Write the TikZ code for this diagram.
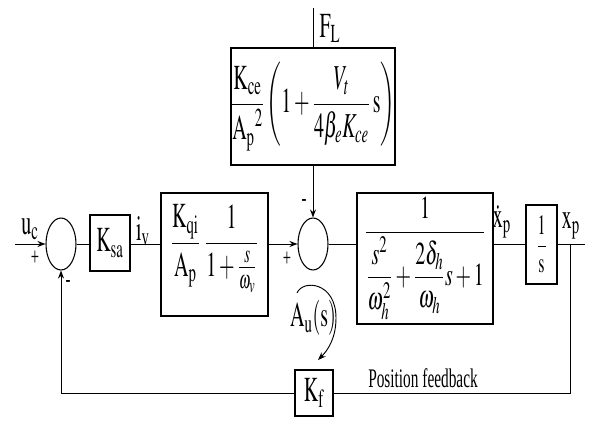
\documentclass[tikz,border=0pt]{standalone}
\usepackage{amsmath}
\usepackage{mathptmx}
\usepackage{fontspec}
\setmainfont{Liberation Serif}
\usepackage{graphicx}
\usetikzlibrary{arrows.meta,positioning,calc,shapes.geometric}

\newcommand{\tall}[1]{\scalebox{1}[1.75]{#1}}

\tikzset{
  blk/.style={draw,line width=1.6pt,inner sep=0pt,font=\fontsize{15}{18}\selectfont},
  sumj/.style={draw,ellipse,line width=0.8pt,minimum width=22.5pt,minimum height=39pt,inner sep=0pt},
  sig/.style={line width=0.7pt},
  sigarr/.style={line width=0.7pt,-{Stealth[length=6pt,width=4.5pt]}},
  lbl/.style={inner sep=0pt,font=\fontsize{15}{18}\selectfont},
  sgn/.style={inner sep=0pt,font=\fontsize{11}{13}\selectfont},
}

\begin{document}
\begin{tikzpicture}[x=0.75pt,y=-0.75pt]
  \useasboundingbox (0,0) rectangle (590,421); % 全体の大きさ
  \coordinate (uin) at (15,244); % 入力端
  \node[sumj] (sum1) at (61,244) {}; % 第1加算点
  \node[blk,minimum width=30pt,minimum height=42pt] (ksa) at (110,243) {\tall{$\mathrm{K_{sa}}$}}; % 増幅器
  \node[blk,minimum width=80pt,text height=44.5pt,text depth=47.8pt,anchor=base] (valve) at (214.5,252.3)
    {\tall{$\displaystyle\frac{\mathrm{K_{qi}}}{\mathrm{A_p}}\;\frac{1}{1+\frac{s}{\omega_v}}$}}; % サーボ弁
  \node[sumj] (sum2) at (313,244) {}; % 第2加算点
  \node[blk,minimum width=120pt,minimum height=88pt] (load) at (313,106.5)
    {\tall{$\displaystyle\frac{\mathrm{K_{ce}}}{\mathrm{A_p}^2}\left(1+\frac{V_t}{4\beta_e K_{ce}}\,\mathrm{s}\right)$}}; % 外乱の伝達
  \node[blk,minimum width=102pt,minimum height=98pt] (cyl) at (425,258.5)
    {\scalebox{1}[1.6]{$\displaystyle\frac{1}{\dfrac{s^2}{\omega_h^2}+\dfrac{2\delta_h}{\omega_h}s+1}$}}; % 油圧シリンダ
  \node[blk,minimum width=23pt,minimum height=59pt,font=\fontsize{12}{14}\selectfont] (integ) at (541.5,244.5)
    {\tall{$\dfrac{1}{\mathrm{s}}$}}; % 積分
  \node[blk,minimum width=28.5pt,minimum height=34pt] (kf) at (314,393) {\tall{$\mathrm{K_f}$}}; % 位置フィードバック
  \coordinate (xout) at (585,244); % 出力端
  \coordinate (tap) at (570,244); % 分岐点
  \coordinate (fl) at (313,8); % 外乱の入口

  \draw[sigarr] (uin) -- (sum1.west); % 入力
  \draw[sig] (sum1.east) -- (sum1.east -| ksa.west);
  \draw[sig] (ksa.east |- sum1) -- (sum1 -| valve.west);
  \draw[sigarr] (valve.east |- sum2) -- (sum2.west);
  \draw[sig] (fl) -- (load.north); % 外乱
  \draw[sigarr] (load.south) -- (sum2.north);
  \draw[sig] (sum2.east) -- (sum2 -| cyl.west);
  \draw[sig] (cyl.east |- sum2) -- (sum2 -| integ.west);
  \draw[sig] (integ.east |- sum2) -- (xout); % 出力
  \draw[sig] (tap) |- (kf.east); % 帰還（右側）
  \draw[sigarr] (kf.west) -| (sum1.south); % 帰還（左側）

  \node[lbl] (uc) at (30,229) {\tall{$\mathrm{u_c}$}};
  \node[sgn] (p1) at (35,258) {\tall{+}};
  \node[sgn] (m1) at (68,284) {\tall{-}};
  \node[lbl] (iv) at (143,231) {\tall{$\mathrm{i_v}$}};
  \node[sgn] (p2) at (287,259) {\tall{+}};
  \node[sgn] (m2) at (304,203) {\tall{-}};
  \node[lbl] (fll) at (330,28) {\tall{$\mathrm{F_L}$}};
  \node[lbl] (xpd) at (502,222) {\tall{$\mathrm{\dot{x}_p}$}};
  \node[lbl] (xp) at (571,226) {\tall{$\mathrm{x_p}$}};
  \node[lbl] (au) at (313,318) {\tall{$\mathrm{A_u(s)}$}};
  \draw[sigarr] (297,293) .. controls (303,279) and (336,282) .. (336,318)
    .. controls (336,338) and (328,350) .. (318,360); % 開ループの矢印
  \node[lbl,font=\fontsize{11.5}{14}\selectfont] (pf) at (423,378) {\tall{Position feedback}};
\end{tikzpicture}
\end{document}
